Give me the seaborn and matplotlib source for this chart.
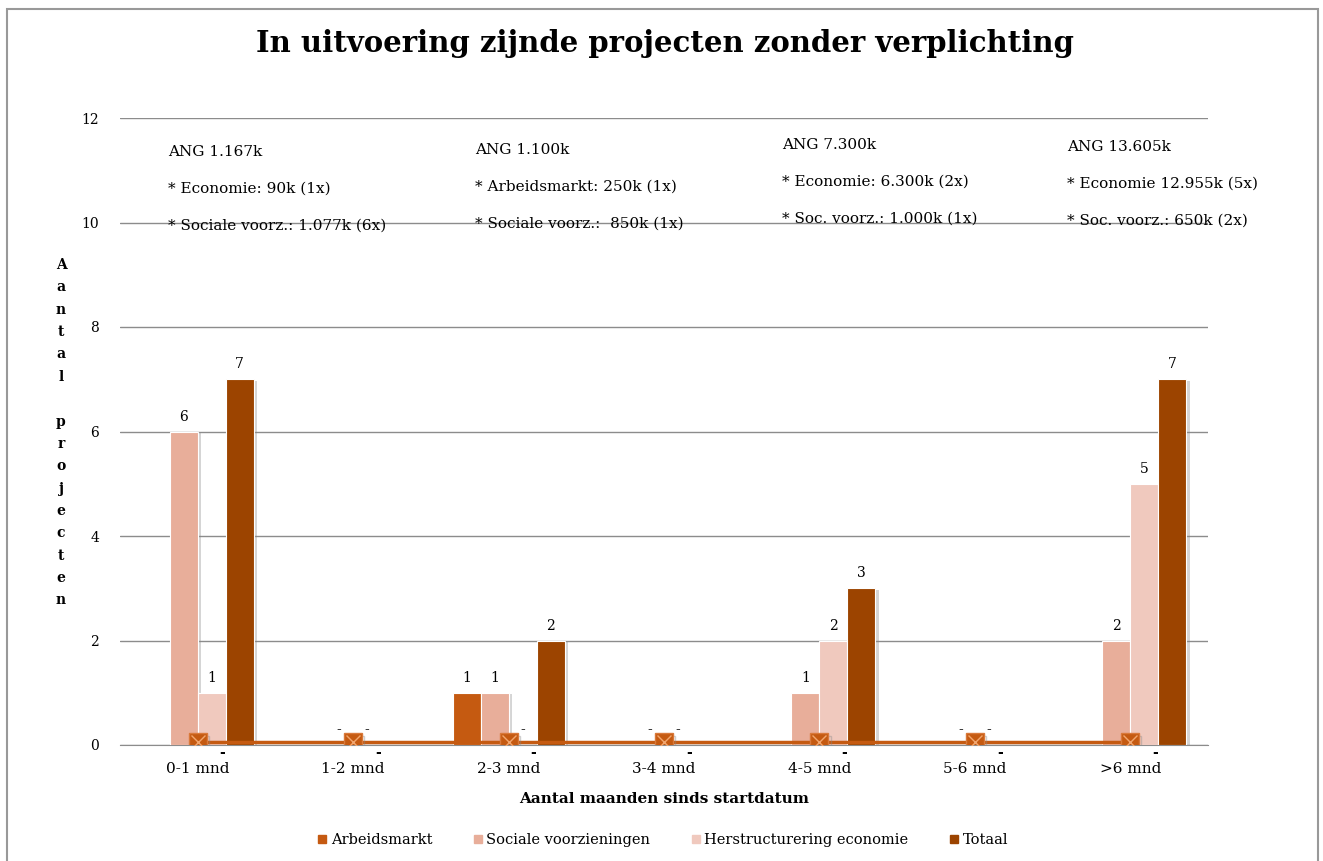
import pandas as pd
import matplotlib
matplotlib.use("Agg")
import matplotlib.pyplot as plt
import matplotlib.patheffects as pe
from matplotlib.patches import Rectangle
import seaborn as sns

categorieen = ["0-1 mnd", "1-2 mnd", "2-3 mnd", "3-4 mnd", "4-5 mnd", "5-6 mnd", ">6 mnd"]
arbeidsmarkt = [0, 0, 1, 0, 0, 0, 0]
sociale = [6, 0, 1, 0, 1, 0, 2]
herstructurering = [1, 0, 0, 0, 2, 0, 5]
totaal = [7, 0, 2, 0, 3, 0, 7]
lijn = [0.05] * 7

reeksen = ["Arbeidsmarkt", "Sociale voorzieningen", "Herstructurering economie", "Totaal"]
kleuren = ["#C55A11", "#E8AE9A", "#F0C9BE", "#9C4400"]

annotaties = [
    ["ANG 1.167k", "* Economie: 90k (1x)", "* Sociale voorz.: 1.077k (6x)"],
    ["ANG 1.100k", "* Arbeidsmarkt: 250k (1x)", "* Sociale voorz.:  850k (1x)"],
    ["ANG 7.300k", "* Economie: 6.300k (2x)", "* Soc. voorz.: 1.000k (1x)"],
    ["ANG 13.605k", "* Economie 12.955k (5x)", "* Soc. voorz.: 650k (2x)"],
]

df = pd.DataFrame({
    "cat": categorieen * 4,
    "reeks": [r for r in reeksen for _ in categorieen],
    "waarde": arbeidsmarkt + sociale + herstructurering + totaal,
})

sns.set_style("white")
plt.rcParams["font.family"] = ["DejaVu Serif"]
plt.rcParams["text.color"] = "black"
plt.rcParams["xtick.color"] = "black"
plt.rcParams["ytick.color"] = "black"
plt.rcParams["axes.labelcolor"] = "black"

fig = plt.figure(figsize=(13.23, 8.61), dpi=100)
fig.patches.append(Rectangle((7 / 1323, -0.01), 1311 / 1323, 1 - 9 / 861 + 0.01,
                             transform=fig.transFigure, fill=False,
                             edgecolor="#999999", linewidth=1.5))
ax = fig.add_axes([120 / 1323, 116 / 861, 1088 / 1323, 627 / 861])

sns.barplot(data=df, x="cat", y="waarde", hue="reeks", hue_order=reeksen,
            palette=kleuren, saturation=1, width=0.72, gap=0, edgecolor="white", linewidth=0.8,
            ax=ax, legend=False, zorder=3)

for bar in ax.patches:
    bar.set_path_effects([pe.SimplePatchShadow(offset=(2.5, -1), shadow_rgbFace="#888888", alpha=0.35),
                          pe.Normal()])

# labels above bars
bw = 0.72 / 4
for i, reeks in enumerate(reeksen):
    vals = [arbeidsmarkt, sociale, herstructurering, totaal][i]
    for j, v in enumerate(vals):
        x = j - 0.36 + bw * (i + 0.5)
        if v > 0:
            ax.text(x, v + 0.15, str(v), ha="center", va="bottom", fontsize=10)
        elif i in (1, 2):
            ax.text(x, 0.15, "-", ha="center", va="bottom", fontsize=10)

# line series at the baseline
xs = list(range(len(categorieen)))
ax.plot(xs, lijn, color="#C55A11", linewidth=2.5, zorder=4)
ax.plot(xs, lijn, linestyle="none", marker="s", markersize=13, color="#C55A11",
        markeredgecolor="#D9793A", zorder=5,
        path_effects=[pe.SimpleLineShadow(offset=(1.5, -2), shadow_color="#888888", alpha=0.4), pe.Normal()])
ax.plot(xs, lijn, linestyle="none", marker="x", markersize=10, markeredgewidth=1,
        color="#F2A66E", zorder=6)
for x in xs:
    ax.text(x + 0.16, -0.02, "-", ha="center", va="top", fontsize=10, fontweight="bold")

ax.set_ylim(0, 12)
ax.set_xlim(-0.5, 6.5)
ax.set_yticks(range(0, 13, 2))
ax.yaxis.grid(True, color="#8C8C8C", linewidth=1)
ax.set_axisbelow(True)
for s in ["top", "right", "left"]:
    ax.spines[s].set_visible(False)
ax.spines["bottom"].set_color("#8C8C8C")
ax.tick_params(axis="y", length=5, color="#8C8C8C", labelsize=10, pad=10)
ax.tick_params(axis="x", length=0, labelsize=11, pad=12)
ax.set_xlabel("Aantal maanden sinds startdatum", fontsize=11, fontweight="bold", labelpad=12)
ax.set_ylabel("")

fig.text(61 / 1323, 1 - 258 / 861, "\n".join(list("Aantal projecten")), ha="center", va="top",
         fontsize=10, fontweight="bold", linespacing=1.76)

fig.text(0.5025, 1 - 44 / 861, "In uitvoering zijnde projecten zonder verplichting",
         ha="center", va="center", fontsize=21, fontweight="heavy")

kol_x = [168, 475, 782, 1067]
kol_y = [152, 150, 145, 147]
for k, regels in enumerate(annotaties):
    for r, t in enumerate(regels):
        fig.text(kol_x[k] / 1323, 1 - (kol_y[k] + r * 37) / 861, t, ha="left", va="center", fontsize=11)

handles = [plt.Line2D([], [], linestyle="none", marker="s", markersize=6, color=c) for c in kleuren]
fig.legend(handles, reeksen, loc="center", bbox_to_anchor=(0.5, 1 - 840 / 861), ncol=4,
           frameon=False, fontsize=10.5, handletextpad=0.1, handlelength=1.0, columnspacing=2.6)

fig.savefig("out.png", dpi=100)
